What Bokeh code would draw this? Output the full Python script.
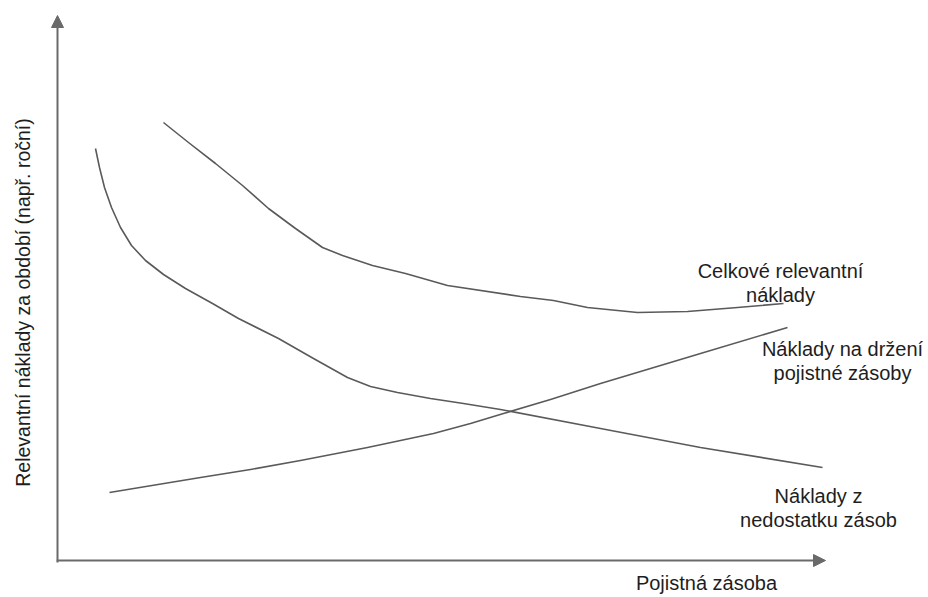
from bokeh.plotting import figure
from bokeh.models import Range1d, Arrow, NormalHead
from bokeh.core.properties import value
from bokeh.embed import file_html
from bokeh.resources import INLINE
import math

# --- data (arbitrary units: safety stock on x, cost per period on y) ---
total_x = [13.25, 16.375, 19.75, 23.125, 26.375, 29.75, 33.125, 35.625, 39.375, 43.5,
           48.75, 57.875, 62.0, 66.25, 72.5, 78.75, 85.0, 90.75]
total_y = [87.6, 83.6, 79.4, 75.0, 70.4, 66.4, 62.6, 61.0, 59.0, 57.4,
           55.0, 52.8, 52.0, 50.6, 49.6, 49.8, 50.6, 51.4]

shortage_x = [4.75, 5.25, 5.875, 6.75, 7.875, 9.25, 11.0, 13.25, 16.0, 19.375, 22.625,
              27.625, 32.0, 36.25, 39.125, 42.5, 46.625, 50.75, 55.375, 67.875, 80.375, 95.625]
shortage_y = [82.4, 78.6, 74.6, 70.6, 66.6, 63.0, 60.0, 57.2, 54.4, 51.4, 48.4,
              44.4, 40.4, 36.6, 34.8, 33.6, 32.4, 31.4, 30.2, 26.4, 22.6, 18.6]

holding_x = [6.5, 17.875, 24.125, 30.375, 38.75, 47.0, 51.625, 55.75, 61.625, 67.875,
             74.125, 80.375, 91.25]
holding_y = [13.6, 16.6, 18.2, 20.0, 22.6, 25.4, 27.4, 29.4, 32.2, 35.4,
             38.4, 41.4, 46.6]

x_title = "Pojistná zásoba"
y_title = "Relevantní náklady za období (např. roční)"
label_total = ["Celkové relevantní", "náklady"]
label_holding = ["Náklady na držení", "pojistné zásoby"]
label_shortage = ["Náklady z", "nedostatku zásob"]

FONT = "Liberation Sans"
LINE_C = "#5a5a5a"
AXIS_C = "#6a6a6a"
TEXT_C = "#1e1e1e"

p = figure(width=928, height=597, output_backend="svg", toolbar_location=None,
           x_range=Range1d(-7.125, 108.875), y_range=Range1d(-7.4, 112.0),
           min_border=0, outline_line_color=None)
p.xaxis.visible = False
p.yaxis.visible = False
p.grid.visible = False
p.background_fill_color = "white"
p.border_fill_color = "white"

# axes with arrow heads
p.add_layout(Arrow(end=NormalHead(size=12, fill_color=AXIS_C, line_color=AXIS_C),
                   x_start=0, y_start=-0.4, x_end=0, y_end=109,
                   line_color=AXIS_C, line_width=2))
p.add_layout(Arrow(end=NormalHead(size=12, fill_color=AXIS_C, line_color=AXIS_C),
                   x_start=-0.1, y_start=0, x_end=96, y_end=0,
                   line_color=AXIS_C, line_width=2))

# curves
for xs, ys in ((total_x, total_y), (shortage_x, shortage_y), (holding_x, holding_y)):
    p.line(xs, ys, line_color=LINE_C, line_width=1.6, line_join="round")

def add_label(lines, cx, cy, dy=4.9):
    xs = [cx] * len(lines)
    ys = [cy - i * dy for i in range(len(lines))]
    p.text(x=xs, y=ys, text=lines, text_font=value(FONT), text_font_size="20px",
           text_color=TEXT_C, text_align="center", text_baseline="middle")

add_label(label_total, 90.375, 58.0)
add_label(label_holding, 98.125, 42.4)
add_label(label_shortage, 95.125, 13.0)
add_label([x_title], 81.125, -4.4)

p.text(x=[-4.375], y=[51.6], text=[y_title], angle=math.pi / 2,
       text_font=value(FONT), text_font_size="19.5px", text_color=TEXT_C,
       text_align="center", text_baseline="middle")

open("out.html", "w").write(file_html(p, INLINE))
